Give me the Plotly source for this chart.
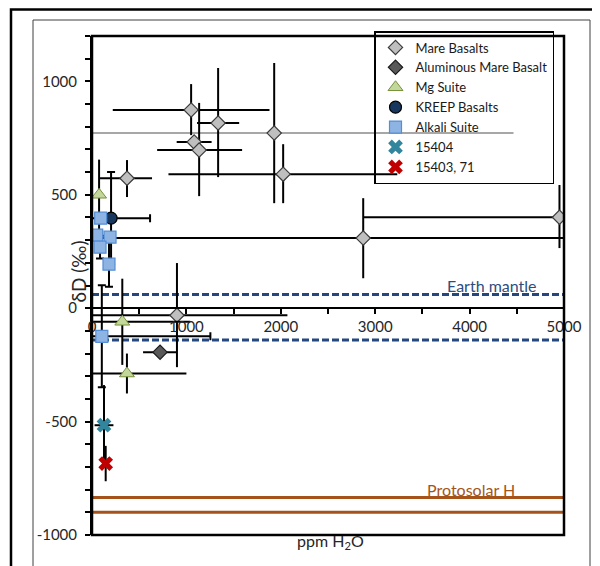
import plotly.graph_objects as go

# ---------------- data ----------------
# Mare basalts (gray diamonds)
mare_x = [1050, 1336, 1930, 1082, 1135, 2025, 2873, 4952, 371, 900]
mare_y = [874, 816, 772, 733, 697, 591, 309, 401, 573, -31]
mare_exm = [830, 223, 0, 185, 445, 1215, 2800, 2080, 286, 1170]
mare_exp = [830, 223, 0, 185, 455, 1209, 2800, 2080, 265, 1170]
mare_eym = [111, 238, 309, 0, 203, 128, 177, 136, 83, 229]
mare_eyp = [114, 243, 309, 0, 208, 132, 176, 142, 80, 230]
# wide (gray) horizontal error of the mare basalt at 1930 ppm
wide_x = [1930]
wide_y = [772]
wide_exm = [1930]
wide_exp = [2535]

# Aluminous mare basalt
alu_x = [721]
alu_y = [-194]
alu_ex = [180]

# Mg suite
mg_x = [75, 321, 370]
mg_y = [500, -60, -288]
mg_ex = [0, 720, 630]
mg_ey = [155, 190, 88]

# KREEP basalts
kreep_x = [202]
kreep_y = [397]
kreep_ex = [413]
kreep_ey = [203]

# Alkali suite
alk_x = [92, 50, 191, 85, 180, 104]
alk_y = [397, 322, 313, 269, 194, -124]
alk_ex = [0, 0, 0, 0, 0, 1150]
alk_ey = [0, 0, 0, 50, 100, 225]

# 15404
s404_x = [127]
s404_y = [-516]
s404_ex = [100]
s404_ey = [177]

# 15403, 71
s403_x = [145]
s403_y = [-685]
s403_ey = [78]

# reference ranges
range_x = [0, 5000]
earth_mantle = [60, -140]
protosolar = [-835, -900]

x_ticks = [0, 1000, 2000, 3000, 4000, 5000]
y_ticks = [-1000, -500, 0, 500, 1000]

# ---------------- figure ----------------
FONT = "Lato"
fig = go.Figure()

# reference lines
for v in earth_mantle:
    fig.add_trace(go.Scatter(x=range_x, y=[v, v], mode="lines",
                             line=dict(color="#24477F", width=3, dash="7px,3px"),
                             showlegend=False, hoverinfo="skip"))
for v in protosolar:
    fig.add_trace(go.Scatter(x=range_x, y=[v, v], mode="lines",
                             line=dict(color="#A5531A", width=3),
                             showlegend=False, hoverinfo="skip"))

EB = dict(color="black", thickness=2, width=0)

fig.add_trace(go.Scatter(
    x=wide_x, y=wide_y, mode="markers", marker=dict(size=1, opacity=0),
    error_x=dict(type="data", symmetric=False, array=wide_exp, arrayminus=wide_exm,
                 color="#8a8a8a", thickness=1.5, width=0),
    showlegend=False, hoverinfo="skip"))

fig.add_trace(go.Scatter(
    x=mare_x, y=mare_y, mode="markers", name="Mare Basalts",
    marker=dict(symbol="diamond", size=11, color="#BFBFBF",
                line=dict(color="#3a3a3a", width=1.2)),
    error_x=dict(type="data", symmetric=False, array=mare_exp, arrayminus=mare_exm, **EB),
    error_y=dict(type="data", symmetric=False, array=mare_eyp, arrayminus=mare_eym, **EB)))

fig.add_trace(go.Scatter(
    x=alu_x, y=alu_y, mode="markers", name="Aluminous Mare Basalt",
    marker=dict(symbol="diamond", size=11, color="#595959",
                line=dict(color="#1a1a1a", width=1.2)),
    error_x=dict(type="data", array=alu_ex, **EB)))

fig.add_trace(go.Scatter(
    x=mg_x, y=mg_y, mode="markers", name="Mg Suite",
    marker=dict(symbol="triangle-up", size=13, color="#C3D69B",
                line=dict(color="#77933C", width=1)),
    error_x=dict(type="data", array=mg_ex, **EB),
    error_y=dict(type="data", array=mg_ey, **EB)))

fig.add_trace(go.Scatter(
    x=kreep_x, y=kreep_y, mode="markers", name="KREEP Basalts",
    marker=dict(symbol="circle", size=12, color="#17375E",
                line=dict(color="black", width=1.2)),
    error_x=dict(type="data", array=kreep_ex, color="black", thickness=2, width=4),
    error_y=dict(type="data", array=kreep_ey, color="black", thickness=2, width=4)))

fig.add_trace(go.Scatter(
    x=alk_x, y=alk_y, mode="markers", name="Alkali Suite",
    marker=dict(symbol="square", size=12, color="#8EB4E3",
                line=dict(color="#558ED5", width=1.2)),
    error_x=dict(type="data", array=alk_ex, color="black", thickness=2, width=4),
    error_y=dict(type="data", array=alk_ey, color="black", thickness=2, width=4)))

fig.add_trace(go.Scatter(
    x=s404_x, y=s404_y, mode="markers", name="15404",
    marker=dict(symbol="x", size=13, color="#31859C", line=dict(width=0)),
    error_x=dict(type="data", array=s404_ex, **EB),
    error_y=dict(type="data", array=s404_ey, **EB)))

fig.add_trace(go.Scatter(
    x=s403_x, y=s403_y, mode="markers", name="15403, 71",
    marker=dict(symbol="x", size=13, color="#C00000", line=dict(width=0)),
    error_y=dict(type="data", array=s403_ey, **EB)))

# ---------------- layout ----------------
# The page body has an 8px margin, so the figure is drawn at (8, 8) on screen.
OFF = 8
W, H = 600 - OFF, 566 - OFF
PL, PR, PT, PB = 92, 564, 36, 535          # plot area in screen pixels
L, T = PL - OFF, PT - OFF
R, B = W - (PR - OFF), H - (PB - OFF)
pw, ph = PR - PL, PB - PT

def px2fx(px):
    return (px - PL) / pw

def py2fy(py):
    return (PB - py) / ph

fig.update_layout(
    width=W, height=H,
    margin=dict(l=L, r=R, t=T, b=B),
    paper_bgcolor="white", plot_bgcolor="white",
    font=dict(family=FONT, size=15, color="#262626"),
    showlegend=True,
    legend=dict(x=px2fx(374), y=py2fy(31), xanchor="left", yanchor="top",
                bgcolor="rgba(255,255,255,0)", bordercolor="black", borderwidth=1.5,
                font=dict(family=FONT, size=13, color="#1a1a1a"),
                tracegroupgap=0, itemwidth=30),
    xaxis=dict(range=range_x, anchor="free",
               position=(0 - (-1000)) / (1200 - (-1000)),
               tickvals=x_ticks, ticktext=[str(v) for v in x_ticks],
               showline=True, linecolor="black", linewidth=2,
               ticks="outside", ticklen=5, tickwidth=1.5, tickcolor="black",
               minor=dict(dtick=500, tick0=0, ticks="outside", ticklen=5,
                          tickwidth=1.5, tickcolor="black"),
               showgrid=False, zeroline=False,
               tickfont=dict(family=FONT, size=15, color="#262626")),
    yaxis=dict(range=[-1000, 1200], domain=[0, 1],
               tickvals=y_ticks, ticktext=[str(v) for v in y_ticks],
               showline=True, linecolor="black", linewidth=2,
               ticks="outside", ticklen=5, tickwidth=1.5, tickcolor="black",
               minor=dict(dtick=100, tick0=0, ticks="outside", ticklen=5,
                          tickwidth=1.5, tickcolor="black"),
               showgrid=False, zeroline=False, ticklabelstandoff=5,
               tickfont=dict(family=FONT, size=15, color="#262626")),
)

# plot frame and outer boxes
fig.add_shape(type="rect", xref="x domain", yref="y domain", x0=0, x1=1, y0=0, y1=1,
              line=dict(color="black", width=2.5), layer="above")
fig.add_shape(type="rect", xref="paper", yref="paper",
              x0=px2fx(33), x1=px2fx(590), y0=py2fy(620), y1=py2fy(20),
              line=dict(color="#404040", width=1))
fig.add_shape(type="rect", xref="paper", yref="paper",
              x0=px2fx(11), x1=px2fx(640), y0=py2fy(640), y1=py2fy(9.5),
              line=dict(color="black", width=2.5))

# text labels
fig.add_annotation(x=4240, y=101, xref="x", yref="y", text="Earth mantle",
                   showarrow=False, font=dict(family=FONT, size=16, color="#2E4D7E"))
fig.add_annotation(x=4020, y=-799, xref="x", yref="y", text="Protosolar H",
                   showarrow=False, font=dict(family=FONT, size=16, color="#A5531A"))
fig.add_annotation(x=px2fx(330), y=py2fy(554), xref="paper", yref="paper",
                   text="ppm H<sub>2</sub>O", showarrow=False,
                   font=dict(family=FONT, size=16, color="#262626"))
fig.add_annotation(x=px2fx(64), y=py2fy(272), xref="paper", yref="paper",
                   text="δD (‰)", textangle=-90, showarrow=False,
                   font=dict(family=FONT, size=19, color="#262626"))

fig.write_html("out.html")
